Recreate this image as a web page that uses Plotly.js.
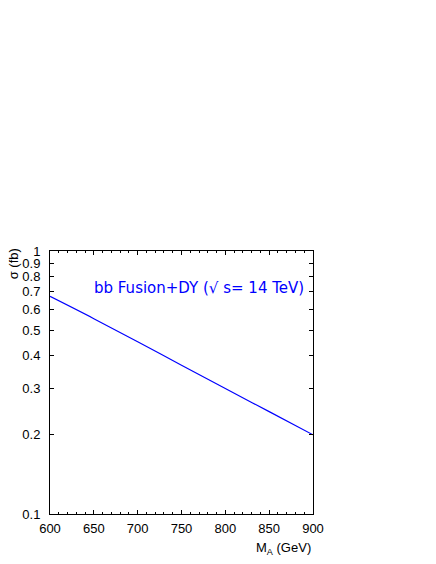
<!DOCTYPE html>
<html>
<head>
<meta charset="utf-8">
<script src="https://cdn.plot.ly/plotly-3.0.1.min.js"></script>
<style>
  html, body { margin: 0; padding: 0; background: white; }
  #plot_div { width: 436px; height: 564px; }
</style>
</head>
<body>
<div id="plot_div"></div>
<script>
var mass = [600, 650, 700, 750, 800, 850, 900];
var sigma = [0.672, 0.553, 0.452, 0.368, 0.300, 0.245, 0.200];
var yTicks = [0.1, 0.2, 0.3, 0.4, 0.5, 0.6, 0.7, 0.8, 0.9, 1];
var yLabels = ['0.1', '0.2', '0.3', '0.4', '0.5', '0.6', '0.7', '0.8', '0.9', '1'];
var xTicks = [600, 650, 700, 750, 800, 850, 900];

var data1 = [{
    type: 'scatter',
    mode: 'lines',
    x: mass,
    y: sigma,
    line: { color: 'rgb(0,0,255)', width: 1.2, shape: 'spline' },
    showlegend: false
}];

var layout1 = {
    width: 436,
    height: 564,
    margin: { l: 50, r: 123, t: 251, b: 50 },
    paper_bgcolor: 'white',
    plot_bgcolor: 'white',
    font: { family: 'Liberation Sans, Arial, sans-serif', size: 13, color: 'black' },
    xaxis: {
        range: [600, 900],
        tickvals: xTicks,
        ticks: 'inside',
        ticklen: 4,
        tickwidth: 1,
        tickcolor: 'black',
        minor: { dtick: 10, ticks: 'inside', ticklen: 2, tickcolor: 'black' },
        showline: true,
        linecolor: 'black',
        linewidth: 1,
        mirror: 'ticks',
        showgrid: false,
        zeroline: false,
        ticklabelstandoff: 2
    },
    yaxis: {
        type: 'log',
        range: [-1, 0],
        tickvals: yTicks,
        ticktext: yLabels,
        ticks: 'inside',
        ticklen: 4,
        tickwidth: 1,
        tickcolor: 'black',
        showline: true,
        linecolor: 'black',
        linewidth: 1,
        mirror: 'ticks',
        showgrid: false,
        zeroline: false,
        ticklabelstandoff: 6
    },
    annotations: [
        {
            text: 'bb Fusion+DY (\u221A s= 14 TeV)',
            xref: 'paper', yref: 'paper',
            x: 0.975, y: 0.859,
            xanchor: 'right', yanchor: 'middle',
            showarrow: false,
            font: { family: 'DejaVu Sans, sans-serif', color: 'rgb(0,0,255)', size: 15 }
        },
        {
            text: 'M<sub>A</sub> (GeV)',
            xref: 'paper', yref: 'paper',
            x: 1.0, y: -0.092,
            xanchor: 'right', yanchor: 'top',
            showarrow: false,
            font: { size: 13 }
        },
        {
            text: '\u03C3 (fb)',
            xref: 'paper', yref: 'paper',
            x: -0.14, y: 0.95,
            xanchor: 'center', yanchor: 'middle',
            textangle: -90,
            showarrow: false,
            font: { size: 13 }
        }
    ]
};

Plotly.newPlot('plot_div', data1, layout1, { staticPlot: true });
</script>
</body>
</html>
